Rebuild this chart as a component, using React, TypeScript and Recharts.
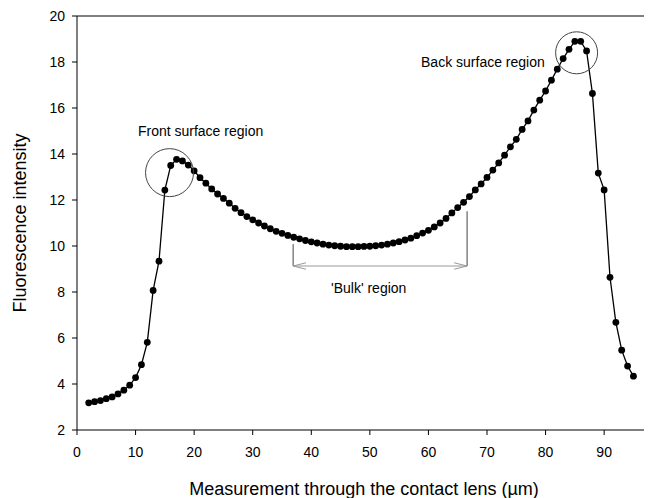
import { Line, LineChart, ReferenceDot, ReferenceLine, XAxis, YAxis } from "recharts";

// depth through the lens (µm) and measured fluorescence
const depth = [
  2, 3, 4, 5, 6, 7, 8, 9, 10, 11, 12, 13, 14, 15, 16, 17, 18, 19, 20, 21, 22, 23, 24, 25, 26, 27, 28, 29, 30, 31, 32,
  33, 34, 35, 36, 37, 38, 39, 40, 41, 42, 43, 44, 45, 46, 47, 48, 49, 50, 51, 52, 53, 54, 55, 56, 57, 58, 59, 60, 61,
  62, 63, 64, 65, 66, 67, 68, 69, 70, 71, 72, 73, 74, 75, 76, 77, 78, 79, 80, 81, 82, 83, 84, 85, 86, 87, 88, 89, 90,
  91, 92, 93, 94, 95,
];
const intensity = [
  3.18, 3.23, 3.28, 3.36, 3.44, 3.57, 3.73, 3.95, 4.28, 4.84, 5.81, 8.07, 9.34, 12.43, 13.5, 13.77, 13.7, 13.52, 13.27,
  12.97, 12.73, 12.48, 12.26, 12.07, 11.86, 11.64, 11.45, 11.28, 11.14, 11.0, 10.87, 10.75, 10.64, 10.55, 10.46, 10.38,
  10.31, 10.24, 10.18, 10.13, 10.08, 10.04, 10.01, 9.99, 9.97, 9.97, 9.97, 9.98, 9.99, 10.01, 10.04, 10.08, 10.13,
  10.19, 10.26, 10.34, 10.45, 10.56, 10.68, 10.83, 11.0, 11.2, 11.44, 11.67, 11.9, 12.15, 12.44, 12.7, 12.98, 13.3,
  13.61, 13.95, 14.31, 14.64, 15.07, 15.44, 15.91, 16.34, 16.74, 17.21, 17.69, 18.15, 18.55, 18.9, 18.9, 18.48, 16.63,
  13.17, 12.44, 8.64, 6.68, 5.47, 4.78, 4.34,
];
const xTicks = [0, 10, 20, 30, 40, 50, 60, 70, 80, 90];
const yTicks = [2, 4, 6, 8, 10, 12, 14, 16, 18, 20];

const data = depth.map((d, i) => ({ depth: d, intensity: intensity[i] }));

const tickStyle = { fill: "#000", fontSize: 14 };
const grey = "#444";

export default function App() {
  return (
    <div style={{ fontFamily: "'Liberation Sans', Arial, sans-serif" }}>
      <LineChart width={644} height={490} data={data} margin={{ top: 8, right: 1, left: 0, bottom: 0 }}>
        <XAxis
          dataKey="depth"
          type="number"
          domain={[0, 98]}
          ticks={xTicks}
          allowDataOverflow
          height={68}
          tick={tickStyle}
          tickSize={5}
          tickMargin={12}
          axisLine={{ stroke: "#000" }}
          tickLine={{ stroke: "#000" }}
          label={{
            value: "Measurement through the contact lens (µm)",
            position: "insideBottom",
            offset: 3,
            fontSize: 18,
            fill: "#000",
          }}
        />
        <YAxis
          type="number"
          domain={[2, 20]}
          ticks={yTicks}
          width={69}
          tick={tickStyle}
          tickSize={5}
          tickMargin={7}
          axisLine={{ stroke: "#000" }}
          tickLine={{ stroke: "#000" }}
          label={{
            value: "Fluorescence intensity",
            angle: -90,
            position: "insideLeft",
            offset: 12,
            fontSize: 18,
            fill: "#000",
            style: { textAnchor: "middle" },
          }}
        />
        <ReferenceLine y={20} stroke="#000" />

        {/* bulk bracket */}
        <ReferenceLine segment={[{ x: 36.9, y: 10.08 }, { x: 36.9, y: 9.13 }]} stroke={grey} />
        <ReferenceLine segment={[{ x: 66.6, y: 11.51 }, { x: 66.6, y: 9.13 }]} stroke={grey} />
        <ReferenceLine segment={[{ x: 36.9, y: 9.13 }, { x: 66.6, y: 9.13 }]} stroke="#999" />
        <ReferenceLine segment={[{ x: 36.9, y: 9.13 }, { x: 39.1, y: 9.27 }]} stroke="#999" />
        <ReferenceLine segment={[{ x: 36.9, y: 9.13 }, { x: 39.1, y: 8.99 }]} stroke="#999" />
        <ReferenceLine segment={[{ x: 66.6, y: 9.13 }, { x: 64.4, y: 9.27 }]} stroke="#999" />
        <ReferenceLine segment={[{ x: 66.6, y: 9.13 }, { x: 64.4, y: 8.99 }]} stroke="#999" />

        <Line
          dataKey="intensity"
          type="linear"
          stroke="#000"
          strokeWidth={1.3}
          dot={{ r: 3.4, fill: "#000", stroke: "#000", strokeWidth: 0 }}
          activeDot={false}
          isAnimationActive={false}
        />

        <ReferenceDot x={15.8} y={13.19} r={24} fill="none" stroke={grey} strokeWidth={1} />
        <ReferenceDot x={85.3} y={18.4} r={21} fill="none" stroke={grey} strokeWidth={1} />

        <ReferenceDot
          x={21.1}
          y={14.98}
          r={1}
          fill="none"
          stroke="none"
          label={{ value: "Front surface region", position: "center", fontSize: 14, fill: "#000" }}
        />
        <ReferenceDot
          x={69.3}
          y={17.98}
          r={1}
          fill="none"
          stroke="none"
          label={{ value: "Back surface region", position: "center", fontSize: 14, fill: "#000" }}
        />
        <ReferenceDot
          x={49.8}
          y={8.16}
          r={1}
          fill="none"
          stroke="none"
          label={{ value: "'Bulk' region", position: "center", fontSize: 14, fill: "#000" }}
        />
      </LineChart>
    </div>
  );
}
